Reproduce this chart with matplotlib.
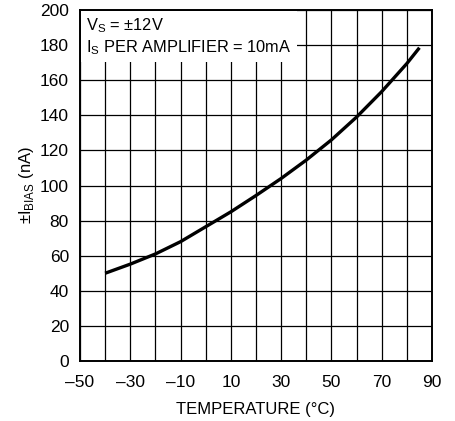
import numpy as np
import matplotlib.pyplot as plt
from matplotlib.ticker import MultipleLocator

temp = [-40, -30, -20, -10, 0, 10, 20, 30, 40, 50, 60, 70, 80, 85]
ibias = [50, 55.2, 61, 68, 76.5, 85, 94.3, 104, 114.5, 126, 139, 153.5, 169.5, 178.5]
xticks = [-50, -30, -10, 10, 30, 50, 70, 90]
yticks = list(range(0, 201, 20))

plt.rcParams['font.family'] = ['Liberation Sans', 'DejaVu Sans']

fig = plt.figure(figsize=(4.56, 4.21), dpi=100)
ax = fig.add_axes([80 / 456, 1 - 361 / 421, 352 / 456, 351 / 421])

ax.plot(temp, ibias, color='black', lw=2.4, solid_capstyle='butt', zorder=3)

ax.set_xlim(-50, 90)
ax.set_ylim(0, 200)
ax.set_xticks(xticks)
ax.set_xticklabels([f'{t}'.replace('-', '\u2013') for t in xticks])
ax.xaxis.set_minor_locator(MultipleLocator(10))
ax.set_yticks(yticks)
ax.grid(True, which='both', color='black', lw=0.9)
ax.tick_params(which='both', length=0, labelsize=12.5)
ax.tick_params(axis='x', pad=10)
ax.tick_params(axis='y', pad=8)
for s in ax.spines.values():
    s.set_linewidth(1.4)

ax.set_xlabel('TEMPERATURE (\u00b0C)', fontsize=12, labelpad=9)
ax.set_ylabel('\u00b1I$_{\\mathregular{BIAS}}$ (nA)', fontsize=12, labelpad=3)

ax.text(0.018, 0.982, 'V$_{\\mathregular{S}}$ = \u00b112V\nI$_{\\mathregular{S}}$ PER AMPLIFIER = 10mA',
        transform=ax.transAxes, ha='left', va='top', fontsize=11.8, linespacing=1.25,
        bbox=dict(facecolor='white', edgecolor='none', pad=3.5), zorder=4)

fig.savefig('out.png', dpi=100)
